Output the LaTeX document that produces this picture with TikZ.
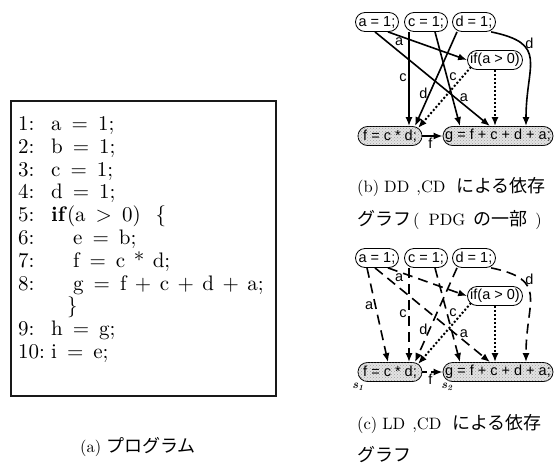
\documentclass[tikz,border=0pt]{standalone}
\usepackage{fontspec}
% Latin Modern at its 10pt design size, scaled up
\setmainfont{lmroman10-regular.otf}[BoldFont=lmroman10-bold.otf,
  ItalicFont=lmroman10-italic.otf, BoldItalicFont=lmroman10-bolditalic.otf]
\setsansfont{Liberation Sans}
\newfontfamily\jafont{Noto Sans CJK JP}
\usetikzlibrary{arrows.meta,calc,patterns}

% spacing around operators in the listing
\newcommand\crel[1]{\hspace{10pt}#1\hspace{10pt}}
\newcommand\cbin[1]{\hspace{8.5pt}#1\hspace{8.5pt}}
\newcommand\codefont{\fontsize{21}{23}\selectfont}
\newcommand\capfont{\fontsize{16.5}{20}\selectfont}
\newcommand\capja{\fontsize{18}{20}\selectfont\jafont}

\begin{document}
\begin{tikzpicture}[x=1pt,y=-1pt,
  code/.style={anchor=base west, inner sep=0pt, font=\codefont},
  captxt/.style={anchor=base west, inner sep=0pt, font=\capfont},
  stmt/.style={draw=black, line width=0.8pt, rounded corners=9.5pt,
    minimum height=19pt, inner xsep=2pt, inner ysep=0pt, fill=white,
    font=\sffamily\fontsize{14.5}{16}\selectfont},
  stmtg/.style={stmt, fill=gray!22,
    postaction={pattern=crosshatch dots, pattern color=gray!75}},
  lbl/.style={inner sep=1.5pt, font=\sffamily\fontsize{14.5}{16}\selectfont},
  dd/.style={line width=1.6pt, -{Latex[length=9pt,width=7pt]}},
  ld/.style={dd, dash pattern=on 10pt off 6pt},
  cdep/.style={dd, line width=2pt, dash pattern=on 2pt off 2pt},
  sname/.style={inner sep=0pt, font=\fontsize{12}{13}\selectfont\bfseries\itshape}
]
\useasboundingbox (0,0) rectangle (558,472);

% ---------- (a) the program ----------
\node[draw=black!90, line width=1.6pt, anchor=north west, inner sep=0pt,
      minimum width=265pt, minimum height=295pt] (box) at (10,100) {};
\node[code] (n1) at (18,130.5) {1:};
\node[code] (l1) at (51,130.5) {a\crel{=}1;};
\node[code] (n2) at (18,153.3) {2:};
\node[code] (l2) at (51,153.3) {b\crel{=}1;};
\node[code] (n3) at (18,176.1) {3:};
\node[code] (l3) at (51,176.1) {c\crel{=}1;};
\node[code] (n4) at (18,198.9) {4:};
\node[code] (l4) at (51,198.9) {d\crel{=}1;};
\node[code] (n5) at (18,221.7) {5:};
\node[code] (l5) at (51,221.7) {\textbf{if}(a\crel{>}0)\hspace{15pt}\{};
\node[code] (n6) at (18,244.5) {6:};
\node[code] (l6) at (73,244.5) {e\crel{=}b;};
\node[code] (n7) at (18,267.3) {7:};
\node[code] (l7) at (73,267.3) {f\crel{=}c\cbin{*}d;};
\node[code] (n8) at (18,290.1) {8:};
\node[code] (l8) at (73,290.1) {g\crel{=}f\cbin{+}c\cbin{+}d\cbin{+}a;};
\node[code] (lb) at (67,312.9) {\}};
\node[code] (n9) at (18,335.7) {9:};
\node[code] (l9) at (51,335.7) {h\crel{=}g;};
\node[code] (n10) at (18,358.5) {10:};
\node[code] (l10) at (51,358.5) {i\crel{=}e;};
\node[captxt] (capa) at (80,452) {(a)\hspace{5pt}{\capja プログラム}};

% ---------- (b) DD and CD graph ----------
\node[stmt, minimum width=43pt] (A) at (377,22) {a = 1;};
\node[stmt, minimum width=43pt] (C) at (426,22) {c = 1;};
\node[stmt, minimum width=43pt] (D) at (474,22) {d = 1;};
\node[stmt, minimum width=55pt] (IF) at (495,60) {if(a > 0)};
\node[stmtg, minimum width=64pt] (F) at (390,136) {f = c * d;};
\node[stmtg, minimum width=110pt] (G) at (498,136) {g = f + c + d + a;};

\draw[dd] ($(A.south)+(11,0)$) -- node[lbl, pos=.14, below] {a} (IF.west);
\draw[dd] ($(A.south)+(-2,0)$) -- node[lbl, pos=.7, right, xshift=2pt] {a} ($(G.north)+(-8,0)$);
\draw[dd] ($(C.south)+(-17,0)$) -- node[lbl, pos=.49, left] {c} ($(F.north)+(19,0)$);
\draw[dd] ($(C.south)+(9,0)$) -- node[lbl, pos=.48, right] {c} ($(G.north)+(-38,0)$);
\draw[dd] ($(D.south)+(-17,0)$) -- node[lbl, pos=.65, left] {d} ($(F.north)+(25,0)$);
\draw[dd] (D.-30) .. controls +(58,12) and +(0,-62) .. node[lbl, pos=.2, anchor=west, xshift=6pt, yshift=-3pt] {d} ($(G.north)+(28,0)$);
\draw[cdep] ($(IF.south west)+(4,-3)$) -- ($(F.north)+(28,2)$);
\draw[cdep] (IF.south) -- (IF.south |- G.north);
\draw[dd] (F.east) -- node[lbl, pos=.4, below] {f} (G.west);

\node[captxt] (capb1) at (357,192.5) {(b)\hspace{5pt}DD\hspace{7pt},CD\hspace{11pt}{\capja による依存}};
\node[captxt] (capb2) at (357,225.5) {{\capja グラフ}\hspace{2pt}(\hspace{9pt}PDG\hspace{8pt}{\capja の一部}\hspace{8pt})};

% ---------- (c) LD and CD graph ----------
\node[stmt, minimum width=43pt] (A2) at (377,258) {a = 1;};
\node[stmt, minimum width=43pt] (C2) at (426,258) {c = 1;};
\node[stmt, minimum width=43pt] (D2) at (474,258) {d = 1;};
\node[stmt, minimum width=55pt] (IF2) at (495,296) {if(a > 0)};
\node[stmtg, minimum width=64pt] (F2) at (390,372) {f = c * d;};
\node[stmtg, minimum width=110pt] (G2) at (498,372) {g = f + c + d + a;};

\draw[ld] ($(A2.south)+(-10,0)$) -- node[lbl, pos=.4, left] {a} ($(F2.north)+(-2,0)$);
\draw[ld] ($(A2.south)+(11,0)$) -- node[lbl, pos=.14, below] {a} (IF2.west);
\draw[ld] ($(A2.south)+(-2,0)$) -- node[lbl, pos=.7, right, xshift=2pt] {a} ($(G2.north)+(-8,0)$);
\draw[ld] ($(C2.south)+(-17,0)$) -- node[lbl, pos=.49, left] {c} ($(F2.north)+(19,0)$);
\draw[ld] ($(C2.south)+(9,0)$) -- node[lbl, pos=.48, right] {c} ($(G2.north)+(-38,0)$);
\draw[ld] ($(D2.south)+(-17,0)$) -- node[lbl, pos=.65, left] {d} ($(F2.north)+(25,0)$);
\draw[ld] (D2.-30) .. controls +(58,12) and +(0,-62) .. node[lbl, pos=.2, anchor=west, xshift=6pt, yshift=-3pt] {d} ($(G2.north)+(28,0)$);
\draw[cdep] ($(IF2.south west)+(4,-3)$) -- ($(F2.north)+(28,2)$);
\draw[cdep] (IF2.south) -- (IF2.south |- G2.north);
\draw[ld, dash pattern=on 5pt off 4pt] (F2.east) -- node[lbl, pos=.4, below] {f} (G2.west);

\node[sname] (s1) at ($(F2.center)+(-32,15)$) {s\textsubscript{\itshape 1}};
\node[sname] (s2) at ($(G2.center)+(-51,15)$) {s\textsubscript{\itshape 2}};

\node[captxt] (capc1) at (357,429.5) {(c)\hspace{5pt}LD\hspace{7pt},CD\hspace{11pt}{\capja による依存}};
\node[captxt] (capc2) at (357,461.5) {{\capja グラフ}};
\end{tikzpicture}
\end{document}
